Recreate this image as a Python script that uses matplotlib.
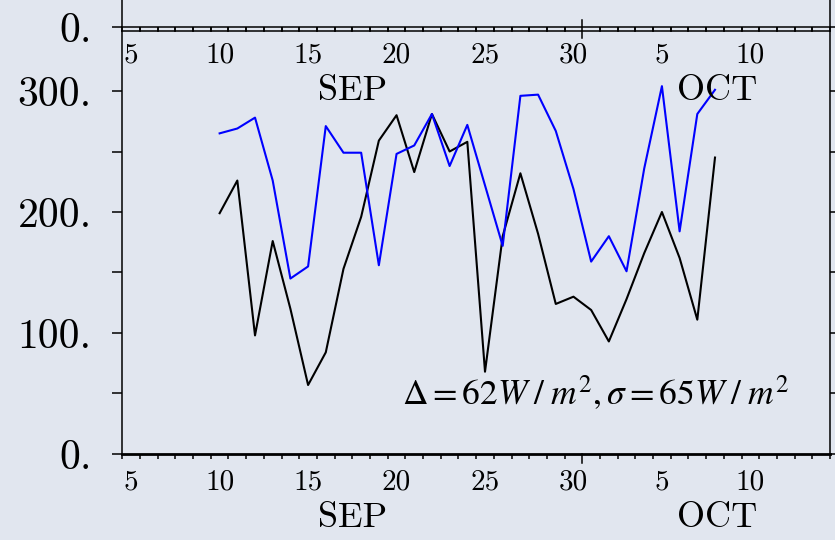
import numpy as np
import matplotlib.pyplot as plt
from matplotlib.lines import Line2D
from matplotlib.transforms import blended_transform_factory

# day index: Sep d -> d, Oct d -> 30 + d (values are daily means, plotted at noon)
days = list(range(10, 39))
blue_vals = [265, 269, 278, 226, 145, 155, 271, 249, 249, 156, 248, 255,
             281, 238, 272, 222, 172, 296, 297, 267, 219, 159, 180, 151,
             236, 304, 184, 281, 301]
black_vals = [199, 226, 98, 176, 120, 57, 84, 153, 196, 259, 280, 233,
              281, 250, 258, 68, 180, 232, 182, 124, 130, 119, 93, 128,
              166, 200, 162, 111, 245]

xtick_pos = [5, 10, 15, 20, 25, 30, 35, 40]
xtick_labels = ['5', '10', '15', '20', '25', '30', '5', '10']
ytick_pos = [0, 100, 200, 300]
ytick_labels = ['0.', '100.', '200.', '300.']
ytick_minor = [50, 150, 250]
month_names = ['SEP', 'OCT']
month_centers = [17.5, 38.1]
month_edge = 30.5
note = r'$\Delta = 62W\;/\;m^2, \sigma = 65W\;/\;m^2$'

plt.rcParams['mathtext.fontset'] = 'stix'
bg = '#e1e6ef'
lab_font = 'cmr10'

fig = plt.figure(figsize=(8.35, 5.4), dpi=100, facecolor=bg)


def setup_xaxis(a, top_ticks=False):
    a.set_xlim(4.5, 44.5)
    a.set_xticks(xtick_pos)
    a.set_xticklabels(xtick_labels, fontfamily=lab_font, fontsize=21)
    edges = [e for e in np.arange(4.5, 45, 1.0) if e != month_edge]
    a.set_xticks(edges, minor=True)
    a.tick_params(axis='x', which='major', length=0, pad=11)
    a.tick_params(axis='x', which='minor', direction='out', length=3.5,
                  width=1.1, top=top_ticks)
    for name, c in zip(month_names, month_centers):
        a.annotate(name, xy=(c, 0), xycoords=('data', 'axes fraction'),
                   xytext=(0, -46), textcoords='offset points',
                   ha='center', va='center', fontfamily=lab_font, fontsize=26)


# main panel
ax = fig.add_axes([0.1465, 0.1593, 0.8475, 0.7842])
ax.set_facecolor(bg)
ax.plot(days, black_vals, color='black', lw=1.5)
ax.plot(days, blue_vals, color='blue', lw=1.5)
ax.set_ylim(0, 350)
ax.set_yticks(ytick_pos)
ax.set_yticklabels(ytick_labels, fontfamily=lab_font, fontsize=30)
ax.set_yticks(ytick_minor, minor=True)
ax.tick_params(axis='y', which='both', direction='out', length=7, width=1.1,
               left=True, right=True, pad=15)
setup_xaxis(ax, top_ticks=True)
for s in ['left', 'right', 'top']:
    ax.spines[s].set_linewidth(1.1)
ax.spines['bottom'].set_linewidth(2)
ax.text(20.3, 40, note, fontsize=25.5, ha='left', va='baseline')

# bottom edge of the panel above
tp = fig.add_axes([0.1465, 0.9494, 0.8475, 0.2])
tp.set_facecolor(bg)
tp.set_ylim(0, 100)
tp.set_yticks([0])
tp.set_yticklabels(['0.'], fontfamily=lab_font, fontsize=30)
tp.tick_params(axis='y', direction='out', length=7, width=1.1,
               left=True, right=True, pad=15)
setup_xaxis(tp)
for s in ['left', 'right', 'bottom']:
    tp.spines[s].set_linewidth(1.1)
tp.spines['top'].set_visible(False)

# longer ticks at the month boundary (bottom axis and the shared top edge)
trans = blended_transform_factory(ax.transData, fig.transFigure)
for y0, y1 in [(0.1593, 0.1420), (0.9296, 0.9630)]:
    fig.add_artist(Line2D([month_edge, month_edge], [y0, y1], color='black',
                          lw=1.1, transform=trans, zorder=5))

fig.savefig('out.png', dpi=100, facecolor=bg)
